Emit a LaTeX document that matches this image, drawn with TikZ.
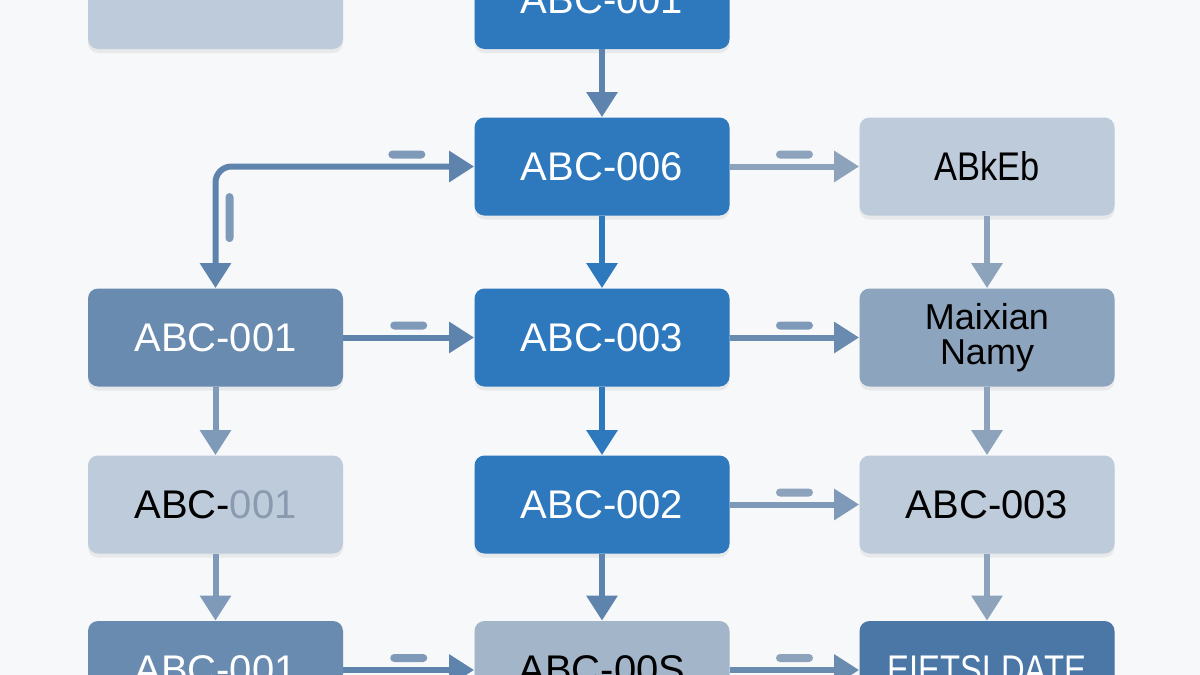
\documentclass[tikz,border=0pt]{standalone}
\usepackage{fontspec}
\setmainfont{Liberation Sans}
\usetikzlibrary{arrows.meta,shadows,calc}
\definecolor{bg}{HTML}{F6F8FA}
\definecolor{cblue}{HTML}{2E78BE}
\definecolor{clight}{HTML}{BDCBDB}
\definecolor{cmed}{HTML}{6A8BB0}
\definecolor{cmedlight}{HTML}{8DA4BE}
\definecolor{cbotmid}{HTML}{A3B5C9}
\definecolor{cbotright}{HTML}{4A77A6}
\definecolor{csteel}{HTML}{5E84AD}
\definecolor{cleftv}{HTML}{7F9AB8}
\definecolor{crightv}{HTML}{8DA3BC}
\definecolor{cgraytxt}{HTML}{8A9BB0}
\tikzset{
  box/.style={rounded corners=5pt, minimum width=127.5pt, minimum height=49pt,
    inner sep=0pt, align=center, font=\fontsize{20}{22}\selectfont,
    drop shadow={opacity=0.12, shadow xshift=0pt, shadow yshift=-2pt}},
  conn/.style={line width=3pt, -{Triangle[length=12.5pt,width=15pt]}},
  bar/.style={fill=#1, rounded corners=2pt, minimum width=18.5pt, minimum height=4pt,
    inner sep=0pt, draw=none, yshift=6pt},
  vbar/.style={fill=#1, rounded corners=2pt, minimum width=4pt, minimum height=24.5pt,
    inner sep=0pt, draw=none, xshift=7pt}
}
\begin{document}
\begin{tikzpicture}[x=0.5pt,y=-0.5pt]
\useasboundingbox (0,0) rectangle (1200,675);
\fill[bg] (0,0) rectangle (1200,675);

% nodes
\node[box, fill=clight] (l0) at (215.5,0) {};
\node[box, fill=cblue, text=white] (m0) at (602,0) {ABC-001};

\node[box, fill=cblue, text=white] (m1) at (602,166.5) {ABC-006};
\node[box, fill=clight, text=black] (r1) at (987,166.5) {\scalebox{0.86}[1]{ABkEb}};

\node[box, fill=cmed, text=white] (l2) at (215.5,337.5) {ABC-001};
\node[box, fill=cblue, text=white] (m2) at (602,337.5) {ABC-003};
\node[box, fill=cmedlight, text=black, font=\fontsize{18}{17.5}\selectfont] (r2) at (987,337.5) {Maixian\\Namy};

\node[box, fill=clight, text=black] (l3) at (215.5,504.5) {ABC-\textcolor{cgraytxt}{001}};
\node[box, fill=cblue, text=white] (m3) at (602,504.5) {ABC-002};
\node[box, fill=clight, text=black] (r3) at (987,504.5) {ABC-003};

\node[box, fill=cmed, text=white] (l4) at (215.5,670) {ABC-001};
\node[box, fill=cbotmid, text=black] (m4) at (602,670) {ABC-00S};
\node[box, fill=cbotright, text=white] (r4) at (987,670) {\scalebox{0.82}[1]{EIETSLDATE}};

% center column
\draw[conn, draw=csteel] (m0.south) -- (m1.north);
\draw[conn, draw=cblue] (m1.south) -- (m2.north);
\draw[conn, draw=cblue] (m2.south) -- (m3.north);
\draw[conn, draw=csteel] (m3.south) -- (m4.north);

% left column
\draw[conn, draw=cleftv] (l2.south) -- (l3.north);
\draw[conn, draw=cleftv] (l3.south) -- (l4.north);

% right column
\draw[conn, draw=crightv] (r1.south) -- (r2.north);
\draw[conn, draw=crightv] (r2.south) -- (r3.north);
\draw[conn, draw=crightv] (r3.south) -- (r4.north);

% elbow connector
\draw[line width=3pt, draw=csteel, rounded corners=8pt,
  {Triangle[length=12.5pt,width=15pt]}-{Triangle[length=12.5pt,width=15pt]}]
  (l2.north) |- node[pos=0.87, bar=cleftv]{} node[pos=0.29, vbar=cleftv]{} (m1.west);

% horizontal connectors
\draw[conn, draw=csteel] (l2.east) -- node[bar=cleftv]{} (m2.west);
\draw[conn, draw=csteel] (l4.east) -- node[bar=cleftv]{} (m4.west);
\draw[conn, draw=crightv] (m1.east) -- node[bar=crightv]{} (r1.west);
\draw[conn, draw=cmed] (m2.east) -- node[bar=cleftv]{} (r2.west);
\draw[conn, draw=cleftv] (m3.east) -- node[bar=crightv]{} (r3.west);
\draw[conn, draw=cmed] (m4.east) -- node[bar=crightv]{} (r4.west);
\end{tikzpicture}
\end{document}
